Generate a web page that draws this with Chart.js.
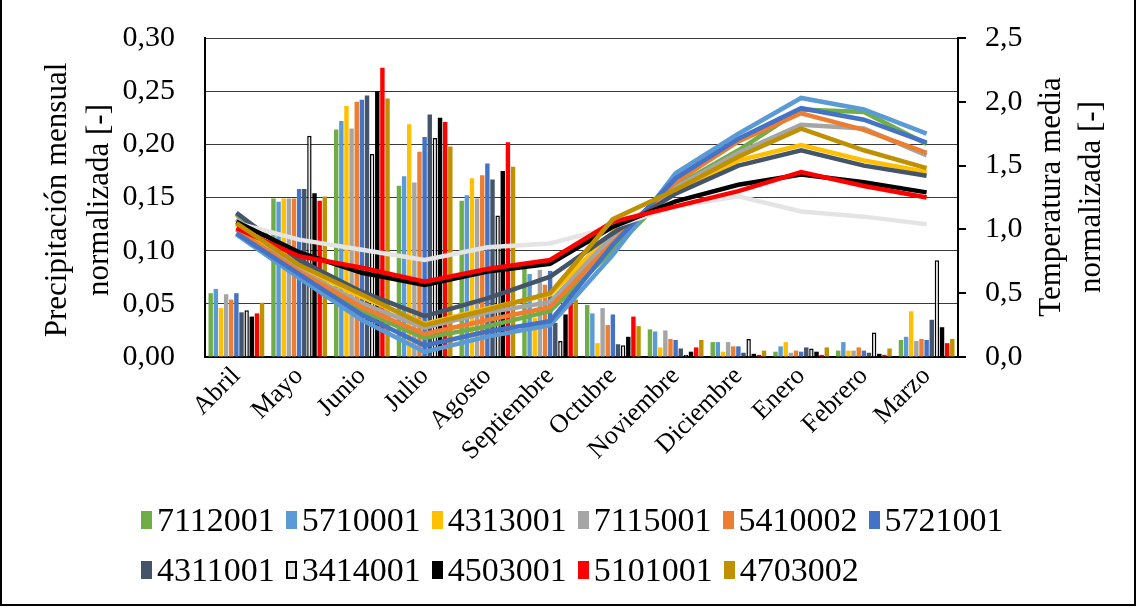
<!DOCTYPE html>
<html>
<head>
<meta charset="utf-8">
<script src="https://cdn.jsdelivr.net/npm/chart.js@4/dist/chart.umd.min.js"></script>
<style>
  html, body { margin: 0; padding: 0; background: #fff; }
  #wrap { position: relative; width: 1136px; height: 608px; overflow: hidden; }
  #c { position: absolute; left: 0; top: 0; }
  #frame { position: absolute; left: 0; top: 0; width: 1132px; height: 604px;
           border-left: 2px solid #000; border-right: 2px solid #000; border-bottom: 2px solid #000; pointer-events: none; }
  .leg { position: absolute; font-family: "Liberation Serif", "Times New Roman", serif; font-size: 34px;
         color: #000; white-space: nowrap; display: flex; align-items: center; }
  .leg .it { display: flex; align-items: center; margin-right: 11px; }
  .leg .bx { width: 11px; height: 18px; margin-right: 5px; box-sizing: border-box; }
</style>
</head>
<body>
<div id="wrap">
  <canvas id="c" width="1136" height="608"></canvas>
  <div id="frame"></div>
  <div class="leg" id="leg1" style="left:141px; top:501px;"></div>
  <div class="leg" id="leg2" style="left:141px; top:551px;"></div>
</div>
<script>
// ---- data ----
const months = ['Abril','Mayo','Junio','Julio','Agosto','Septiembre','Octubre','Noviembre','Diciembre','Enero','Febrero','Marzo'];
const stations = ['7112001','5710001','4313001','7115001','5410002','5721001','4311001','3414001','4503001','5101001','4703002'];

// Precipitación mensual normalizada [-]
const p7112001 = [0.060,0.149,0.214,0.161,0.147,0.083,0.049,0.026,0.014,0.005,0.006,0.016];
const p5710001 = [0.064,0.146,0.222,0.170,0.152,0.078,0.041,0.024,0.014,0.010,0.014,0.019];
const p4313001 = [0.046,0.149,0.236,0.219,0.168,0.037,0.013,0.009,0.005,0.014,0.006,0.043];
const p7115001 = [0.059,0.149,0.215,0.164,0.149,0.082,0.046,0.025,0.014,0.004,0.006,0.015];
const p5410002 = [0.054,0.149,0.240,0.193,0.171,0.068,0.030,0.017,0.010,0.006,0.009,0.017];
const p5721001 = [0.060,0.158,0.242,0.207,0.182,0.081,0.040,0.016,0.010,0.005,0.006,0.016];
const p4311001 = [0.042,0.158,0.246,0.228,0.167,0.032,0.012,0.008,0.004,0.009,0.004,0.035];
const p3414001 = [0.044,0.208,0.191,0.206,0.133,0.015,0.011,0.002,0.017,0.008,0.023,0.091];
const p4503001 = [0.038,0.154,0.250,0.225,0.175,0.040,0.019,0.005,0.003,0.005,0.003,0.028];
const p5101001 = [0.041,0.147,0.272,0.221,0.202,0.052,0.038,0.009,0.002,0.002,0.002,0.013];
const p4703002 = [0.051,0.151,0.243,0.198,0.179,0.054,0.029,0.016,0.006,0.009,0.008,0.017];

// Temperatura media normalizada [-]
const t7112001 = [1.12,0.64,0.36,0.15,0.24,0.36,0.84,1.34,1.62,1.94,1.92,1.67];
const t5710001 = [0.96,0.62,0.29,0.04,0.16,0.25,0.80,1.44,1.75,2.03,1.94,1.75];
const t4313001 = [1.04,0.71,0.47,0.26,0.38,0.49,0.98,1.30,1.54,1.66,1.54,1.45];
const t7115001 = [1.08,0.68,0.42,0.23,0.35,0.43,0.95,1.33,1.60,1.82,1.79,1.58];
const t5410002 = [1.00,0.67,0.39,0.18,0.29,0.39,0.90,1.37,1.69,1.91,1.78,1.60];
const t5721001 = [0.97,0.65,0.33,0.09,0.20,0.28,0.88,1.40,1.71,1.95,1.86,1.68];
const t4311001 = [1.13,0.76,0.51,0.32,0.46,0.63,0.97,1.28,1.50,1.62,1.50,1.42];
const t3414001 = [1.05,0.92,0.84,0.76,0.86,0.89,1.02,1.18,1.26,1.14,1.10,1.04];
const t4503001 = [1.06,0.82,0.66,0.565,0.67,0.73,1.02,1.22,1.35,1.43,1.37,1.29];
const t5101001 = [1.01,0.79,0.70,0.59,0.69,0.76,1.06,1.18,1.30,1.45,1.34,1.25];
const t4703002 = [1.05,0.72,0.49,0.25,0.37,0.50,1.08,1.31,1.57,1.79,1.62,1.48];

const precip = [p7112001,p5710001,p4313001,p7115001,p5410002,p5721001,p4311001,p3414001,p4503001,p5101001,p4703002];
const temp   = [t7112001,t5710001,t4313001,t7115001,t5410002,t5721001,t4311001,t3414001,t4503001,t5101001,t4703002];

const leftTicks = [0, 0.05, 0.10, 0.15, 0.20, 0.25, 0.30];
const rightTicks = [0, 0.5, 1.0, 1.5, 2.0, 2.5];

// ---- styles ----
const barColors  = ['#70ad47','#5b9bd5','#ffc000','#a5a5a5','#ed7d31','#4472c4','#44546a','#e7e6e6','#000000','#ff0000','#bf9000'];
const lineColors = ['#70ad47','#5b9bd5','#ffc000','#a5a5a5','#ed7d31','#4472c4','#44546a','#e4e4e4','#000000','#ff0000','#bf9000'];
const SERIF = '"Liberation Serif", "Times New Roman", serif';

const datasets = [];
stations.forEach((s, i) => {
  const outlined = s === '3414001';
  datasets.push({
    type: 'bar', label: s, data: precip[i], yAxisID: 'y', order: 100,
    backgroundColor: barColors[i],
    borderColor: outlined ? '#000' : barColors[i],
    borderWidth: outlined ? 1.5 : 0,
    categoryPercentage: 0.9, barPercentage: 0.86
  });
});
stations.forEach((s, i) => {
  datasets.push({
    type: 'line', label: 'T ' + s, data: temp[i], yAxisID: 'y1', order: 50 - i,
    borderColor: lineColors[i], backgroundColor: lineColors[i],
    borderWidth: 4.5, pointRadius: 0, tension: 0, fill: false
  });
});

const comma = (v, d) => Number(v).toFixed(d).replace('.', ',');

const titlesPlugin = {
  id: 'axisTitles',
  afterDraw(chart) {
    const ctx = chart.ctx;
    ctx.save();
    ctx.fillStyle = '#000';
    ctx.font = '31px ' + SERIF;
    ctx.textAlign = 'center';
    ctx.textBaseline = 'middle';
    const drawRot = (x, y, txt) => {
      ctx.save(); ctx.translate(x, y); ctx.rotate(-Math.PI / 2); ctx.fillText(txt, 0, 0); ctx.restore();
    };
    drawRot(58, 200, 'Precipitación mensual');
    drawRot(100, 200, 'normalizada [-]');
    drawRot(1052, 197, 'Temperatura media');
    drawRot(1092, 197, 'normalizada [-]');
    ctx.restore();
  }
};

new Chart(document.getElementById('c'), {
  data: { labels: months, datasets },
  options: {
    responsive: false, animation: false,
    layout: { padding: { top: 38, left: 0, right: 0, bottom: 0 } },
    plugins: { legend: { display: false }, tooltip: { enabled: false } },
    scales: {
      x: {
        grid: { display: false, drawTicks: false },
        border: { display: true, color: '#000', width: 2 },
        ticks: { color: '#000', font: { family: SERIF, size: 26 }, minRotation: 45, maxRotation: 45, padding: 4, autoSkip: false },
        afterFit(scale) { scale.height = 608 - 357; }
      },
      y: {
        position: 'left', min: 0, max: 0.30,
        afterBuildTicks(scale) { scale.ticks = leftTicks.map(v => ({ value: v })); },
        grid: { color: '#3a3a3a', lineWidth: 1, drawTicks: false },
        border: { display: true, color: '#000', width: 2 },
        ticks: { color: '#000', font: { family: SERIF, size: 30 }, padding: 30, callback: v => comma(v, 2) },
        afterFit(scale) { scale.width = 205; scale.paddingTop = 0; scale.paddingBottom = 0; }
      },
      y1: {
        position: 'right', min: 0, max: 2.5,
        afterBuildTicks(scale) { scale.ticks = rightTicks.map(v => ({ value: v })); },
        grid: { drawOnChartArea: false, drawTicks: true, tickLength: 8, color: '#000', lineWidth: 2 },
        border: { display: true, color: '#000', width: 2 },
        ticks: { color: '#000', font: { family: SERIF, size: 30 }, padding: 19, callback: v => comma(v, 1) },
        afterFit(scale) { scale.width = 1136 - 958; scale.paddingTop = 0; scale.paddingBottom = 0; }
      }
    }
  },
  plugins: [titlesPlugin]
});

// ---- HTML legend (bar series only) ----
function addItem(row, i) {
  const it = document.createElement('div'); it.className = 'it';
  const bx = document.createElement('div'); bx.className = 'bx';
  bx.style.background = barColors[i];
  if (stations[i] === '3414001') bx.style.border = '2px solid #000';
  const tx = document.createElement('span'); tx.textContent = stations[i];
  it.appendChild(bx); it.appendChild(tx); row.appendChild(it);
}
const r1 = document.getElementById('leg1'), r2 = document.getElementById('leg2');
stations.forEach((s, i) => addItem(i < 6 ? r1 : r2, i));
</script>
</body>
</html>
